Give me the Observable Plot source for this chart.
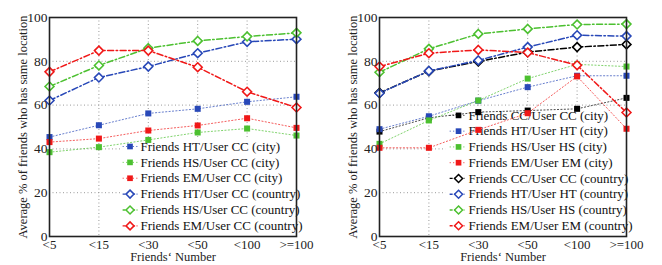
<!DOCTYPE html>
<html><head><meta charset="utf-8">
<script src="https://cdn.jsdelivr.net/npm/d3@7"></script>
<script src="https://cdn.jsdelivr.net/npm/@observablehq/plot@0.6"></script>
<style>
body{margin:0;background:#fff;}
#wrap{display:flex;width:662px;height:265px;}
#wrap svg, #wrap svg text{font-family:"Liberation Serif","Times New Roman",serif !important;}
</style></head>
<body><div id="wrap"></div>
<script>
const xLabels = ["<5","<15","<30","<50","<100",">=100"];
const yTicks = [0,20,40,60,80,100];
const yTitle = "Average % of friends who has same location";
const xTitle = "Friends\u2018 Number";

// Left panel
const L_names = ["Friends HT/User CC (city)","Friends HS/User CC (city)","Friends EM/User CC (city)",
  "Friends HT/User CC (country)","Friends HS/User CC (country)","Friends EM/User CC (country)"];
const L_HT_city = [45.4,50.8,56.2,58.3,61.5,63.8];
const L_HS_city = [38.5,40.8,44.1,47.5,49.3,46.1];
const L_EM_city = [43.1,44.7,48.4,50.7,54.0,49.6];
const L_HT_country = [62.1,72.6,77.6,83.7,88.9,90.1];
const L_HS_country = [68.5,78.1,86.0,89.3,91.3,93.0];
const L_EM_country = [75.2,84.9,84.9,77.3,66.1,58.9];

// Right panel
const R_names = ["Friends CC/User CC (city)","Friends HT/User HT (city)","Friends HS/User HS (city)","Friends EM/User EM (city)",
  "Friends CC/User CC (country)","Friends HT/User HT (country)","Friends HS/User HS (country)","Friends EM/User EM (country)"];
const R_CC_city = [47.9,54.2,56.8,57.5,58.3,63.3];
const R_HT_city = [49.0,54.9,62.0,68.2,73.4,73.4];
const R_HS_city = [42.3,53.0,62.1,72.1,78.6,77.6];
const R_EM_city = [40.5,40.5,48.7,56.3,73.1,49.2];
const R_CC_country = [65.6,75.5,79.9,84.2,86.5,87.7];
const R_HT_country = [65.4,75.6,80.4,86.5,91.9,91.5];
const R_HS_country = [75.0,85.7,92.5,94.8,96.8,97.0];
const R_EM_country = [77.6,83.7,85.2,84.0,78.2,56.6];

const COL = {blue:"#2848b8", green:"#4cc030", red:"#f01818", black:"#000000"};
const FONT = "'Liberation Serif', serif";

function makeSeries(names, values, colors, kinds){
  return names.map((n,i)=>({name:n, values:values[i], color:colors[i], kind:kinds[i]}));
}
const leftSeries = makeSeries(L_names,
  [L_HT_city,L_HS_city,L_EM_city,L_HT_country,L_HS_country,L_EM_country],
  [COL.blue,COL.green,COL.red,COL.blue,COL.green,COL.red],
  ["city","city","city","country","country","country"]);
const rightSeries = makeSeries(R_names,
  [R_CC_city,R_HT_city,R_HS_city,R_EM_city,R_CC_country,R_HT_country,R_HS_country,R_EM_country],
  [COL.black,COL.blue,COL.green,COL.red,COL.black,COL.blue,COL.green,COL.red],
  ["city","city","city","city","country","country","country","country"]);

const CITY_DASH = "1.2,2.2";
const COUNTRY_DASH = "6,2.5,1.5,2.5";

function panel(series, opts){
  const rows = [];
  series.forEach((s,si)=>s.values.forEach((v,i)=>rows.push({si, x:i, y:v, color:s.color, kind:s.kind})));
  const leg = series.map((s,i)=>({...s, ly: opts.legTop - i*opts.legStep}));
  const marks = [
    Plot.gridX([0,1,2,3,4,5], {stroke:"#9a9a9a", strokeOpacity:1, strokeDasharray:"1,2.5"}),
    Plot.gridY(yTicks, {stroke:"#9a9a9a", strokeOpacity:1, strokeDasharray:"1,2.5"}),
    Plot.rect([0], {x1:opts.boxLeft, x2:5, y1:0, y2:opts.boxTop, fill:"white"}),
  ];
  leg.forEach(s=>{
    marks.push(Plot.link([s], {x1:opts.sampX1, x2:opts.sampX2, y1:"ly", y2:"ly", stroke:s.color,
      strokeWidth: s.kind==="city"?1:1.3, strokeDasharray: s.kind==="city"?CITY_DASH:"3,1.5,1,1.5",
      strokeOpacity: s.kind==="city"?0.75:1}));
  });
  marks.push(Plot.dot(leg.filter(s=>s.kind==="city"), {x:opts.sampMid, y:"ly", symbol:"square", r:3.2, fill:d=>d.color, stroke:"none"}));
  marks.push(Plot.dot(leg.filter(s=>s.kind==="country"), {x:opts.sampMid, y:"ly", symbol:"diamond2", r:3.6, fill:"white", stroke:d=>d.color, strokeWidth:1.5}));
  marks.push(Plot.text(leg, {x:opts.textX, y:"ly", text:"name", textAnchor:"start", fontSize:13, fontFamily:FONT, fill:"#111"}));
  series.forEach((s,si)=>{
    marks.push(Plot.line(rows.filter(r=>r.si===si), {x:"x", y:"y", stroke:s.color,
      strokeWidth: s.kind==="city"?1:1.5,
      strokeDasharray: s.kind==="city"?CITY_DASH:COUNTRY_DASH,
      strokeOpacity: s.kind==="city"?0.7:1}));
  });
  marks.push(Plot.dot(rows.filter(r=>r.kind==="city"), {x:"x", y:"y", symbol:"square", r:3.4, fill:d=>d.color, stroke:"none"}));
  marks.push(Plot.dot(rows.filter(r=>r.kind==="country"), {x:"x", y:"y", symbol:"diamond2", r:4, fill:"white", stroke:d=>d.color, strokeWidth:1.6}));
  marks.push(Plot.frame({stroke:"#222", strokeWidth:1.6}));
  marks.push(Plot.axisX([0,1,2,3,4,5], {tickSize:0, tickPadding:3, tickFormat:i=>xLabels[i], fontSize:13, fontFamily:FONT, label:null}));
  marks.push(Plot.axisY(yTicks, {tickSize:0, tickPadding:2, fontSize:13.5, fontFamily:FONT, label:null}));
  marks.push(Plot.text([xTitle], {frameAnchor:"bottom", dy:24.5, fontSize:12.5, fontFamily:FONT, fill:"#222"}));
  marks.push(Plot.text([yTitle], {frameAnchor:"left", textAnchor:"middle", rotate:-90, dx:-27, fontSize:12.5, fontFamily:FONT, fill:"#222"}));
  return Plot.plot({
    width:331, height:265,
    marginLeft:opts.ml, marginRight:opts.mr, marginTop:17, marginBottom:29,
    style:{fontFamily:FONT, fontSize:"13px", background:"white", color:"#222", overflow:"visible"},
    x:{type:"linear", domain:[0,5]},
    y:{type:"linear", domain:[0,100]},
    marks
  });
}

const wrap = document.getElementById("wrap");
wrap.appendChild(panel(leftSeries, {ml:49, mr:35, legTop:41.1, legStep:7.25, boxLeft:1.44, boxTop:44.6,
  sampX1:1.48, sampX2:1.78, sampMid:1.63, textX:1.84}));
wrap.appendChild(panel(rightSeries, {ml:48, mr:36, legTop:55.3, legStep:7.2, boxLeft:1.34, boxTop:59.2,
  sampX1:1.42, sampX2:1.72, sampMid:1.60, textX:1.80}));
</script></body></html>
